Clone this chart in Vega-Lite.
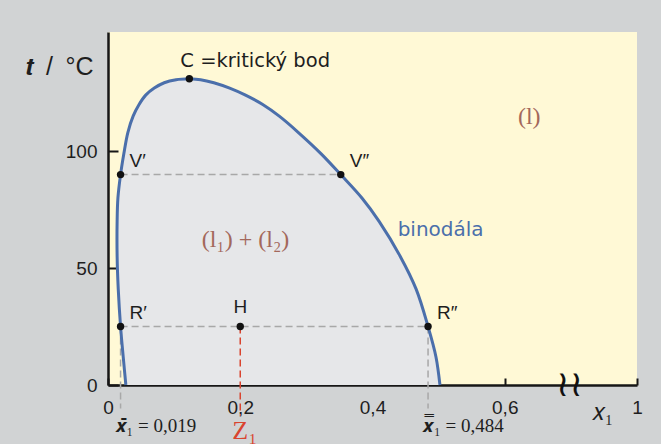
{
  "$schema": "https://vega.github.io/schema/vega-lite/v6.json",
  "width": 529,
  "height": 353,
  "autosize": "none",
  "padding": {"left": 108, "top": 32, "right": 24, "bottom": 59},
  "datasets": {
    "binodala": [
      {"t": 0, "xl": 0.027, "xr": 0.502},
      {"t": 12, "xl": 0.023, "xr": 0.496},
      {"t": 25, "xl": 0.019, "xr": 0.484},
      {"t": 41, "xl": 0.0155, "xr": 0.466},
      {"t": 55, "xl": 0.0138, "xr": 0.442},
      {"t": 70, "xl": 0.0138, "xr": 0.41},
      {"t": 80, "xl": 0.015, "xr": 0.384},
      {"t": 90, "xl": 0.019, "xr": 0.352},
      {"t": 99, "xl": 0.024, "xr": 0.322},
      {"t": 108, "xl": 0.03, "xr": 0.288},
      {"t": 115, "xl": 0.038, "xr": 0.259},
      {"t": 120, "xl": 0.047, "xr": 0.234},
      {"t": 124, "xl": 0.057, "xr": 0.208},
      {"t": 127, "xl": 0.07, "xr": 0.184},
      {"t": 129.3, "xl": 0.085, "xr": 0.16},
      {"t": 130.6, "xl": 0.103, "xr": 0.14},
      {"t": 131, "xl": 0.123, "xr": 0.123}
    ],
    "body": [
      {"name": "C", "x": 0.123, "t": 131},
      {"name": "V′", "x": 0.019, "t": 90},
      {"name": "V″", "x": 0.352, "t": 90},
      {"name": "R′", "x": 0.019, "t": 25},
      {"name": "H", "x": 0.2, "t": 25},
      {"name": "R″", "x": 0.484, "t": 25}
    ],
    "spojnice": [
      {"x": 0.019, "x2": 0.352, "t": 90},
      {"x": 0.019, "x2": 0.484, "t": 25}
    ],
    "svislice": [
      {"x": 0.019, "t": 25, "t2": -10, "kind": "gray"},
      {"x": 0.484, "t": 25, "t2": -10, "kind": "gray"},
      {"x": 0.2, "t": 25, "t2": -13, "kind": "red"}
    ],
    "popisky": [
      {"kind": "bod", "x": 0.019, "t": 90, "text": "V′"},
      {"kind": "bod", "x": 0.352, "t": 90, "text": "V″"},
      {"kind": "bod", "x": 0.019, "t": 25, "text": "R′"},
      {"kind": "bod", "x": 0.484, "t": 25, "text": "R″"},
      {"kind": "stred", "x": 0.2, "t": 25, "text": "H"},
      {"kind": "krit", "x": 0.123, "t": 131, "text": "C =kritický bod"},
      {"kind": "faze", "x": 0.637, "t": 114.5, "text": "(l)"},
      {"kind": "faze", "x": 0.208, "t": 62, "text": "(l₁) + (l₂)"},
      {"kind": "krivka", "x": 0.438, "t": 66.5, "text": "binodála"},
      {"kind": "slozeni", "x": 0.019, "t": 0, "text": "𝒙̄₁ = 0,019"},
      {"kind": "slozeni", "x": 0.484, "t": 0, "text": "𝒙̿₁ = 0,484"},
      {"kind": "z", "x": 0.2, "t": 0, "text": "Z₁"},
      {"kind": "zlom", "x": 0.698, "t": 0, "text": "≀≀"}
    ]
  },
  "layer": [
    {
      "data": {"name": "binodala"},
      "mark": {"type": "area", "orient": "horizontal", "interpolate": "catmull-rom", "color": "#e6e7e9"},
      "encoding": {
        "y": {
          "field": "t", "type": "quantitative", "title": "𝒕\u2002/\u2002°C",
          "scale": {"domain": [0, 151], "nice": false, "zero": false},
          "axis": {"values": [0, 50, 100], "format": "d"}
        },
        "x": {
          "field": "xl", "type": "quantitative", "title": "𝑥₁", "stack": null,
          "scale": {"domain": [0, 0.8], "nice": false, "zero": false},
          "axis": {
            "values": [0, 0.2, 0.4, 0.6, 0.8],
            "labelExpr": "datum.value == 0 ? '0' : datum.value > 0.7 ? '1' : replace(format(datum.value, '.1f'), '.', ',')"
          }
        },
        "x2": {"field": "xr"}
      }
    },
    {
      "mark": {"type": "rule", "color": "#1c1c1c", "strokeWidth": 3},
      "encoding": {
        "x": {"datum": 0.8, "type": "quantitative", "title": "𝑥₁"},
        "y": {"datum": 0, "type": "quantitative", "title": "𝒕\u2002/\u2002°C"},
        "y2": {"datum": 151}
      }
    },
    {
      "data": {"name": "spojnice"},
      "mark": {"type": "rule", "color": "#a8a8a8", "strokeWidth": 1.5, "strokeDash": [7, 4]},
      "encoding": {
        "x": {"field": "x", "type": "quantitative", "title": "𝑥₁"},
        "x2": {"field": "x2"},
        "y": {"field": "t", "type": "quantitative", "title": "𝒕\u2002/\u2002°C"}
      }
    },
    {
      "data": {"name": "svislice"},
      "mark": {"type": "rule", "strokeWidth": 1.5, "strokeDash": [7, 4]},
      "encoding": {
        "x": {"field": "x", "type": "quantitative", "title": "𝑥₁"},
        "y": {"field": "t", "type": "quantitative", "title": "𝒕\u2002/\u2002°C"},
        "y2": {"field": "t2"},
        "color": {
          "field": "kind", "type": "nominal", "legend": null,
          "scale": {"domain": ["gray", "red"], "range": ["#a8a8a8", "#d9442f"]}
        }
      }
    },
    {
      "data": {"name": "binodala"},
      "transform": [{"fold": ["xl", "xr"], "as": ["vetev", "xv"]}],
      "mark": {"type": "line", "interpolate": "catmull-rom", "color": "#4b6fab", "strokeWidth": 3},
      "encoding": {
        "x": {"field": "xv", "type": "quantitative", "title": "𝑥₁"},
        "y": {"field": "t", "type": "quantitative", "title": "𝒕\u2002/\u2002°C"},
        "detail": {"field": "vetev"},
        "order": {"field": "t", "type": "quantitative"}
      }
    },
    {
      "data": {"name": "body"},
      "mark": {"type": "point", "filled": true, "size": 55, "color": "#111111", "opacity": 1},
      "encoding": {
        "x": {"field": "x", "type": "quantitative", "title": "𝑥₁"},
        "y": {"field": "t", "type": "quantitative", "title": "𝒕\u2002/\u2002°C"}
      }
    },
    {
      "data": {"name": "popisky"},
      "transform": [{"filter": "datum.kind == 'bod'"}],
      "mark": {"type": "text", "align": "left", "baseline": "middle", "dx": 9, "dy": -14, "font": "Liberation Sans", "fontSize": 19, "color": "#1e1e1e"},
      "encoding": {
        "x": {"field": "x", "type": "quantitative", "title": "𝑥₁"},
        "y": {"field": "t", "type": "quantitative", "title": "𝒕\u2002/\u2002°C"},
        "text": {"field": "text"}
      }
    },
    {
      "data": {"name": "popisky"},
      "transform": [{"filter": "datum.kind == 'stred'"}],
      "mark": {"type": "text", "align": "center", "baseline": "middle", "dy": -20, "font": "Liberation Sans", "fontSize": 19, "color": "#1e1e1e"},
      "encoding": {
        "x": {"field": "x", "type": "quantitative", "title": "𝑥₁"},
        "y": {"field": "t", "type": "quantitative", "title": "𝒕\u2002/\u2002°C"},
        "text": {"field": "text"}
      }
    },
    {
      "data": {"name": "popisky"},
      "transform": [{"filter": "datum.kind == 'krit'"}],
      "mark": {"type": "text", "align": "left", "baseline": "middle", "dx": -9, "dy": -18, "font": "DejaVu Sans", "fontSize": 19.5, "color": "#1e1e1e"},
      "encoding": {
        "x": {"field": "x", "type": "quantitative", "title": "𝑥₁"},
        "y": {"field": "t", "type": "quantitative", "title": "𝒕\u2002/\u2002°C"},
        "text": {"field": "text"}
      }
    },
    {
      "data": {"name": "popisky"},
      "transform": [{"filter": "datum.kind == 'faze'"}],
      "mark": {"type": "text", "align": "center", "baseline": "middle", "font": "Liberation Serif", "fontSize": 24, "color": "#a3685b"},
      "encoding": {
        "x": {"field": "x", "type": "quantitative", "title": "𝑥₁"},
        "y": {"field": "t", "type": "quantitative", "title": "𝒕\u2002/\u2002°C"},
        "text": {"field": "text"}
      }
    },
    {
      "data": {"name": "popisky"},
      "transform": [{"filter": "datum.kind == 'krivka'"}],
      "mark": {"type": "text", "align": "left", "baseline": "middle", "font": "DejaVu Sans", "fontSize": 20, "color": "#4b6fab"},
      "encoding": {
        "x": {"field": "x", "type": "quantitative", "title": "𝑥₁"},
        "y": {"field": "t", "type": "quantitative", "title": "𝒕\u2002/\u2002°C"},
        "text": {"field": "text"}
      }
    },
    {
      "data": {"name": "popisky"},
      "transform": [{"filter": "datum.kind == 'slozeni'"}],
      "mark": {"type": "text", "align": "left", "baseline": "middle", "dx": -6, "dy": 41, "font": "Liberation Serif", "fontSize": 19, "color": "#1e1e1e"},
      "encoding": {
        "x": {"field": "x", "type": "quantitative", "title": "𝑥₁"},
        "y": {"field": "t", "type": "quantitative", "title": "𝒕\u2002/\u2002°C"},
        "text": {"field": "text"}
      }
    },
    {
      "data": {"name": "popisky"},
      "transform": [{"filter": "datum.kind == 'z'"}],
      "mark": {"type": "text", "align": "left", "baseline": "alphabetic", "dx": -8, "dy": 54, "font": "Liberation Serif", "fontSize": 26, "color": "#d9442f"},
      "encoding": {
        "x": {"field": "x", "type": "quantitative", "title": "𝑥₁"},
        "y": {"field": "t", "type": "quantitative", "title": "𝒕\u2002/\u2002°C"},
        "text": {"field": "text"}
      }
    },
    {
      "data": {"name": "popisky"},
      "transform": [{"filter": "datum.kind == 'zlom'"}],
      "mark": {"type": "text", "align": "center", "baseline": "middle", "font": "DejaVu Sans", "fontSize": 36, "color": "#111111"},
      "encoding": {
        "x": {"field": "x", "type": "quantitative", "title": "𝑥₁"},
        "y": {"field": "t", "type": "quantitative", "title": "𝒕\u2002/\u2002°C"},
        "text": {"field": "text"}
      }
    }
  ],
  "config": {
    "background": "#d1d3d4",
    "view": {"fill": "#fff9d6", "stroke": null},
    "axis": {
      "grid": false,
      "zindex": 1,
      "domainColor": "#161616",
      "domainWidth": 2.5,
      "tickColor": "#161616",
      "tickWidth": 2,
      "labelFont": "Liberation Sans",
      "labelFontSize": 19,
      "labelColor": "#1e1e1e",
      "labelFlush": false,
      "labelOverlap": false,
      "labelBound": false,
      "titleColor": "#1e1e1e",
      "titleFontWeight": "normal"
    },
    "axisX": {
      "tickSize": -7,
      "labelPadding": 20,
      "titleFont": "Liberation Serif",
      "titleFontSize": 24,
      "titleAlign": "center",
      "titleBaseline": "middle",
      "titleX": 494,
      "titleY": 27
    },
    "axisY": {
      "tickSize": -10,
      "labelPadding": 21,
      "titleFont": "Liberation Sans",
      "titleFontSize": 25,
      "titleAngle": 0,
      "titleAlign": "left",
      "titleBaseline": "middle",
      "titleX": -83,
      "titleY": 34
    }
  }
}
